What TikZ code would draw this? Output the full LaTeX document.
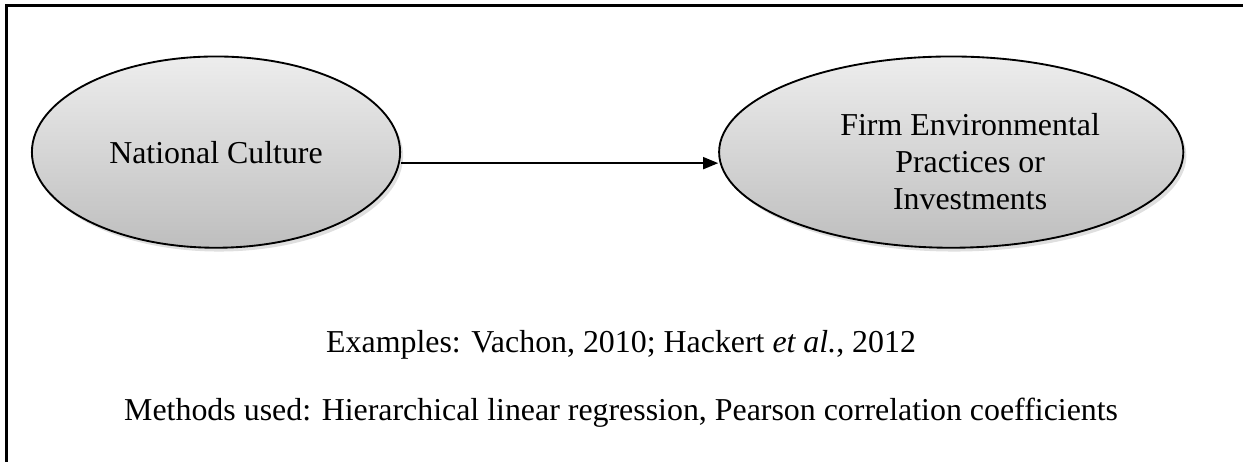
\documentclass[tikz,border=0pt]{standalone}
\usepackage{fontspec}
\setmainfont{Liberation Serif}
\usepackage{tikz}
\usetikzlibrary{positioning,shapes.geometric,arrows.meta,shadows}
\definecolor{elltop}{RGB}{237,237,237}
\definecolor{ellbottom}{RGB}{190,190,190}

\begin{document}
\begin{tikzpicture}[
  every node/.style={font=\fontsize{12}{13.9}\selectfont},
  var/.style={ellipse, draw=black, line width=0.7pt, top color=elltop, bottom color=ellbottom, align=center, inner sep=0pt, minimum height=2.53cm, drop shadow={opacity=0.25, shadow xshift=0.04cm, shadow yshift=-0.05cm}},
  link/.style={-{Triangle[length=0.2cm,width=0.16cm]}, line width=0.6pt}
]
  \clip (0,0) rectangle (16.44,6.1);
  \draw[line width=1pt] (0.086,-1) rectangle (17.5,6.026);

  \node[var, minimum width=4.87cm] (culture) at (2.857,4.088) {National Culture};
  \node[var, minimum width=6.14cm,
        label={[align=center, xshift=0.25cm, yshift=-0.13cm]center:Firm Environmental\\Practices or\\Investments}]
        (practices) at (12.581,4.088) {};

  \node[anchor=base] (examples) at (8.215,1.442) {Examples: Vachon, 2010; Hackert \textit{et al.}, 2012};
  \node[anchor=base] (methods) at (8.215,0.542) {Methods used: Hierarchical linear regression, Pearson correlation coefficients};

  \draw[link] ([yshift=-0.146cm]culture.east) -- ([yshift=-0.146cm]practices.west);
\end{tikzpicture}
\end{document}
